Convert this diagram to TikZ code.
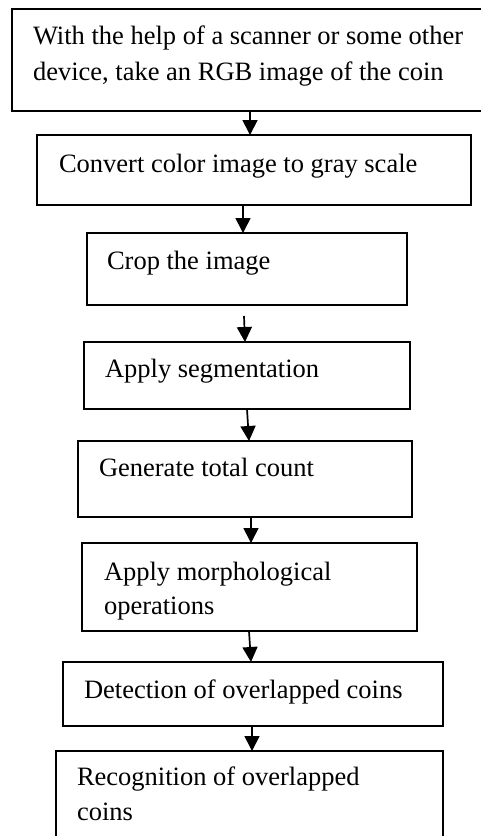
\documentclass[tikz,border=0pt]{standalone}
\usepackage{fontspec}
\setmainfont{Liberation Serif}
\usetikzlibrary{arrows.meta,calc}

\tikzset{
  stepbox/.style={draw=black, line width=0.8pt, inner sep=0pt, outer sep=0pt, fill=none},
  steptext/.style={anchor=base west, inner sep=0pt, outer sep=0pt, align=left,
    font=\fontsize{13.25pt}{17.5pt}\selectfont},
  flow/.style={draw=black, line width=0.85pt,
    -{Triangle[length=7.5pt,width=7.5pt]}, shorten >=0pt},
}

\begin{document}
\begin{tikzpicture}[x=0.5pt, y=-0.5pt]
  \useasboundingbox (0,0) rectangle (481,836);
  \fill[white] (0,0) rectangle (481,836);
  \clip (0,0) rectangle (481,836);

  % process boxes (sizes in pt = half the drawing units)
  \node[stepbox, minimum width=241.5pt, minimum height=51pt] (b1) at (253.5,60) {};
  \node[stepbox, minimum width=217pt,   minimum height=35pt] (b2) at (254,170) {};
  \node[stepbox, minimum width=160pt,   minimum height=36pt] (b3) at (247,269) {};
  \node[stepbox, minimum width=163pt,   minimum height=33.5pt] (b4) at (247,375.5) {};
  \node[stepbox, minimum width=167pt,   minimum height=38pt] (b5) at (245,479) {};
  \node[stepbox, minimum width=167.5pt, minimum height=44pt] (b6) at (249.5,587) {};
  \node[stepbox, minimum width=190pt,   minimum height=32pt] (b7) at (253,694) {};
  \node[stepbox, minimum width=193.5pt, minimum height=49.5pt] (b8) at (249.5,800.5) {};

  % box labels (multi-line labels are placed by the baseline of their last line)
  \node[steptext, font=\fontsize{13.25pt}{18pt}\selectfont] (t1) at (33,80) {With the help of a scanner or some other\\device, take an RGB image of the coin};
  \node[steptext] (t2) at (59,172) {Convert color image to gray scale};
  \node[steptext] (t3) at (107,269) {Crop the image};
  \node[steptext] (t4) at (105,377) {Apply segmentation};
  \node[steptext] (t5) at (99,476) {Generate total count};
  \node[steptext, font=\fontsize{13.25pt}{17pt}\selectfont] (t6) at (104,614) {Apply morphological\\operations};
  \node[steptext] (t7) at (84,698) {Detection of overlapped coins};
  \node[steptext] (t8) at (77,820) {Recognition of overlapped\\coins};

  % connectors
  \draw[flow] ($(b1.south)+(-3.5,0)$) -- ($(b2.north)+(-4,0)$);
  \draw[flow] ($(b2.south)+(-11,0)$) -- ($(b3.north)+(-4,0)$);
  \draw[flow] ($(b3.south)+(-3,11)$) -- ($(b4.north)+(-2,0)$);
  \draw[flow] ($(b4.south)+(0,0)$) -- ($(b5.north)+(4,0)$);
  \draw[flow] ($(b5.south)+(6,0)$) -- ($(b6.north)+(1.5,0)$);
  \draw[flow] ($(b6.south)+(-0.5,0)$) -- ($(b7.north)+(-2,0)$);
  \draw[flow] ($(b7.south)+(-1,0)$) -- ($(b8.north)+(2.5,0)$);
\end{tikzpicture}
\end{document}
